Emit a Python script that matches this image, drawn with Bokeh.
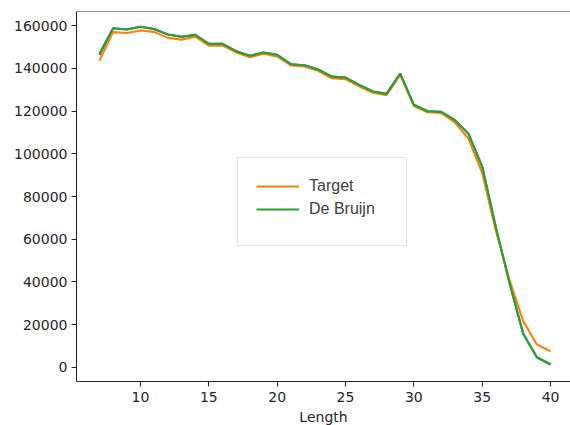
from bokeh.plotting import figure
from bokeh.models import Range1d, Legend, LegendItem, Span, BasicTickFormatter
from bokeh.embed import file_html
from bokeh.resources import INLINE

lengths = list(range(7, 41))
target = [143600, 156900, 156500, 157700, 157000, 154200, 153400, 154800, 150600, 150600,
          147400, 145200, 146800, 145500, 141300, 140800, 138800, 135300, 134900, 131600,
          128500, 127400, 136900, 122300, 119400, 119100, 114700, 107000, 91000, 64000,
          41000, 21700, 10800, 7600]
de_bruijn = [146900, 158700, 158100, 159400, 158400, 155800, 154700, 155600, 151400, 151400,
             148000, 145800, 147400, 146300, 141900, 141400, 139400, 136100, 135600, 132200,
             129100, 128000, 137500, 122900, 119900, 119600, 115700, 109300, 94000, 65500,
             39500, 15800, 4800, 1400]
reference = [146200, 158700, 158100, 159400, 158400, 155800, 154700, 155600, 151400, 151400,
             148000, 145800, 147400, 146300, 141900, 141400, 139400, 136100, 135600, 132200,
             129100, 128000, 137500, 122900, 119900, 119600, 115700, 109300, 94000, 65500,
             39500, 15800, 4800, 1400]
x_ticks = [10, 15, 20, 25, 30, 35, 40]
y_ticks = [0, 20000, 40000, 60000, 80000, 100000, 120000, 140000, 160000]

p = figure(frame_width=494, frame_height=370, output_backend="svg", toolbar_location=None,
           x_range=Range1d(5.32, 41.46), y_range=Range1d(-6550, 166550),
           min_border_left=76, min_border_top=11, min_border_right=0, min_border_bottom=44,
           background_fill_color="white", border_fill_color="white")
p.outline_line_color = None
p.grid.visible = False

tick_font = "DejaVu Sans"
for ax in (p.xaxis[0], p.yaxis[0]):
    ax.axis_line_color = "#262626"
    ax.axis_line_width = 1.1
    ax.major_tick_line_color = "#262626"
    ax.major_tick_line_width = 1.1
    ax.major_tick_out = 5
    ax.major_tick_in = 0
    ax.minor_tick_line_color = None
    ax.major_label_text_font = tick_font
    ax.major_label_text_font_size = "14px"
    ax.major_label_text_color = "#262626"
    ax.major_label_standoff = 4

p.xaxis.major_label_standoff = 5
p.xaxis.ticker = x_ticks
p.yaxis.ticker = y_ticks
p.yaxis.formatter = BasicTickFormatter(use_scientific=False)
p.xaxis.axis_label = "Length"
p.xaxis.axis_label_text_font = tick_font
p.xaxis.axis_label_text_font_size = "14px"
p.xaxis.axis_label_text_font_style = "normal"
p.xaxis.axis_label_text_color = "#262626"
p.xaxis.axis_label_standoff = 4

# top spine
p.add_layout(Span(location=166550, dimension="width", line_color="#262626", line_width=1.1))

r0 = p.line(lengths, reference, line_color="#1f77b4", line_width=2.1)
r1 = p.line(lengths, target, line_color="#ff7f0e", line_width=2.1)
r2 = p.line(lengths, de_bruijn, line_color="#2ca02c", line_width=2.1)

legend = Legend(items=[LegendItem(label="Target", renderers=[r1]),
                       LegendItem(label="De Bruijn", renderers=[r2])],
                location=(161, 135), padding=18, spacing=3,
                glyph_width=43, glyph_height=20, label_height=20,
                label_standoff=10, label_width=79,
                label_text_font="Liberation Sans", label_text_font_size="16px",
                label_text_color="#404040",
                border_line_color="#cccccc", border_line_width=1,
                background_fill_color="white", background_fill_alpha=0.8,
                title=" ", title_location="below", title_text_font_size="7px",
                title_standoff=1)
p.add_layout(legend, "center")

open("out.html", "w").write(file_html(p, INLINE))
